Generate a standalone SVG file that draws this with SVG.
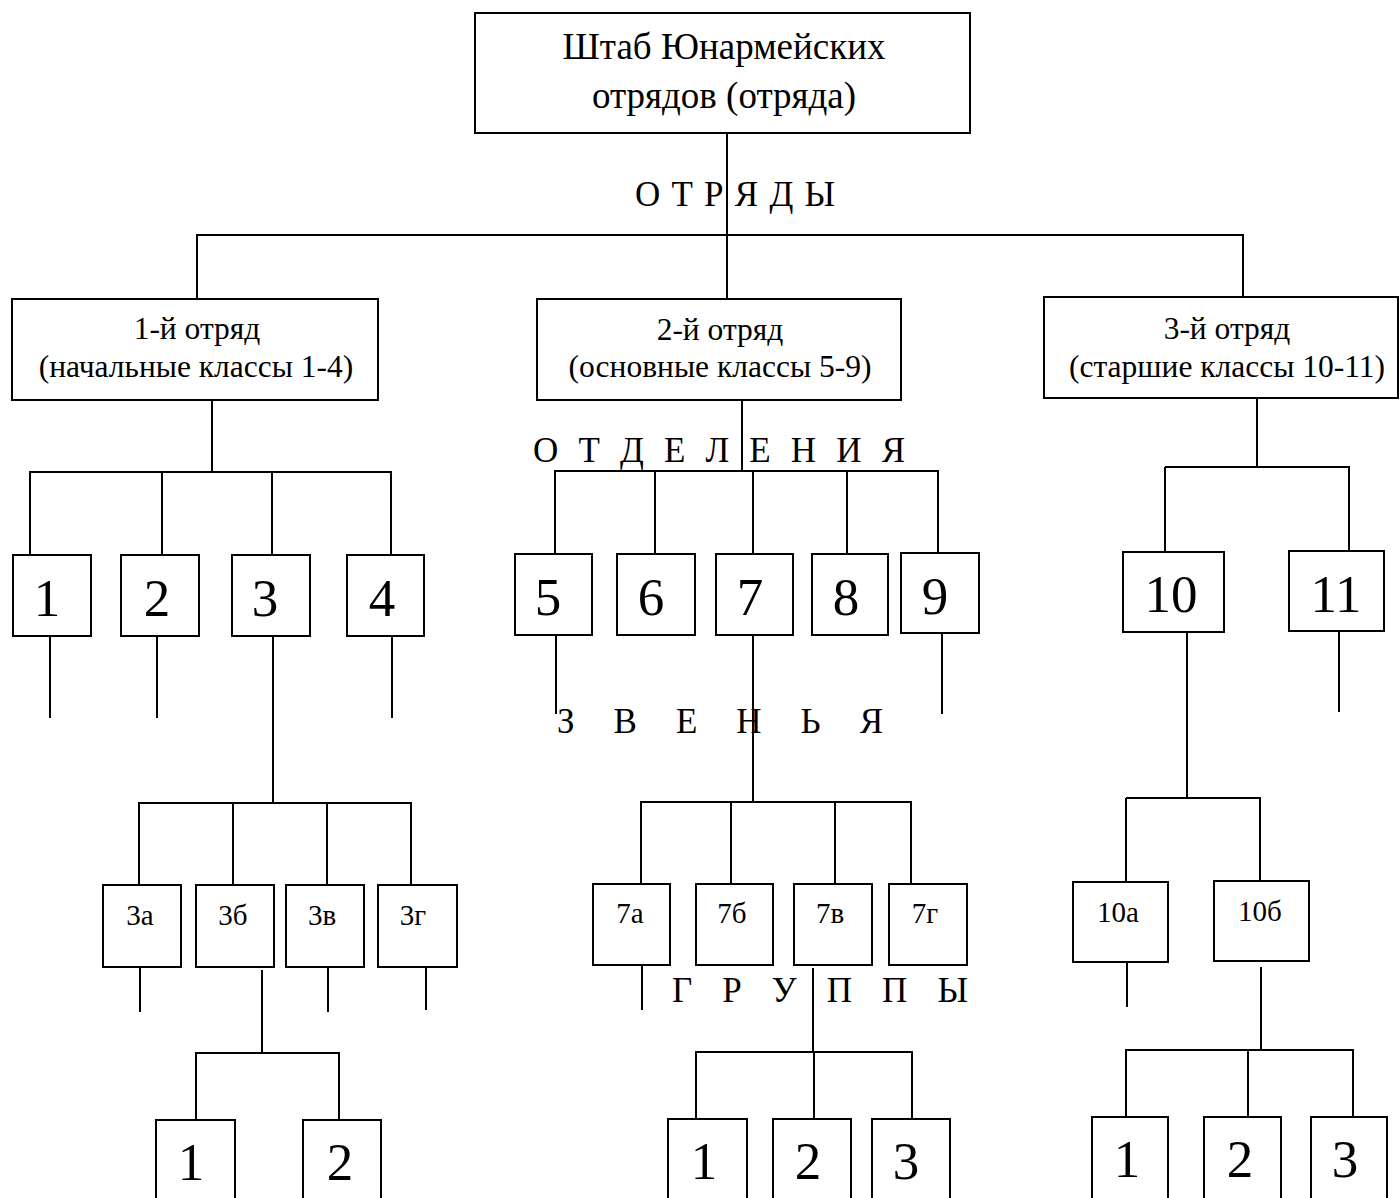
<svg xmlns="http://www.w3.org/2000/svg" width="1400" height="1198" viewBox="0 0 1400 1198">
<style>
.b{fill:#fff;stroke:#000;stroke-width:2}
#connectors line{stroke:#000;stroke-width:2}
text{font-family:"Liberation Serif","DejaVu Serif",serif;fill:#000}
.t{font-size:37px;text-anchor:middle}
.h{font-size:31.5px;text-anchor:middle}
.n{font-size:53px;text-anchor:middle}
.s{font-size:29px;text-anchor:middle}
.lbl{font-size:35px}
</style>
<rect width="1400" height="1198" fill="#fff"/>
<g id="connectors">
<line x1="727" y1="133" x2="727" y2="235"/>
<line x1="196" y1="235" x2="1244" y2="235"/>
<line x1="197" y1="235" x2="197" y2="299"/>
<line x1="727" y1="235" x2="727" y2="299"/>
<line x1="1243" y1="235" x2="1243" y2="298"/>
<line x1="212" y1="400" x2="212" y2="472"/>
<line x1="29" y1="472" x2="392" y2="472"/>
<line x1="30" y1="472" x2="30" y2="555"/>
<line x1="162" y1="472" x2="162" y2="555"/>
<line x1="272" y1="472" x2="272" y2="555"/>
<line x1="391" y1="472" x2="391" y2="555"/>
<line x1="50" y1="636" x2="50" y2="718"/>
<line x1="157" y1="636" x2="157" y2="718"/>
<line x1="273" y1="636" x2="273" y2="803"/>
<line x1="392" y1="636" x2="392" y2="718"/>
<line x1="138" y1="803" x2="412" y2="803"/>
<line x1="139" y1="803" x2="139" y2="885"/>
<line x1="233" y1="803" x2="233" y2="885"/>
<line x1="327" y1="803" x2="327" y2="885"/>
<line x1="411" y1="803" x2="411" y2="885"/>
<line x1="140" y1="967" x2="140" y2="1012"/>
<line x1="262" y1="970" x2="262" y2="1053"/>
<line x1="328" y1="967" x2="328" y2="1012"/>
<line x1="426" y1="963" x2="426" y2="1010"/>
<line x1="195" y1="1053" x2="340" y2="1053"/>
<line x1="196" y1="1053" x2="196" y2="1120"/>
<line x1="339" y1="1053" x2="339" y2="1120"/>
<line x1="742" y1="400" x2="742" y2="471"/>
<line x1="554" y1="471" x2="939" y2="471"/>
<line x1="555" y1="471" x2="555" y2="554"/>
<line x1="655" y1="471" x2="655" y2="554"/>
<line x1="753" y1="471" x2="753" y2="554"/>
<line x1="847" y1="471" x2="847" y2="554"/>
<line x1="938" y1="471" x2="938" y2="553"/>
<line x1="556" y1="635" x2="556" y2="714"/>
<line x1="753" y1="635" x2="753" y2="802"/>
<line x1="942" y1="630" x2="942" y2="714"/>
<line x1="640" y1="802" x2="912" y2="802"/>
<line x1="641" y1="802" x2="641" y2="884"/>
<line x1="731" y1="802" x2="731" y2="884"/>
<line x1="835" y1="802" x2="835" y2="884"/>
<line x1="911" y1="802" x2="911" y2="884"/>
<line x1="642" y1="965" x2="642" y2="1010"/>
<line x1="813" y1="968" x2="813" y2="1052"/>
<line x1="695" y1="1052" x2="913" y2="1052"/>
<line x1="696" y1="1052" x2="696" y2="1119"/>
<line x1="814" y1="1052" x2="814" y2="1119"/>
<line x1="912" y1="1052" x2="912" y2="1119"/>
<line x1="1257" y1="398" x2="1257" y2="467"/>
<line x1="1165" y1="467" x2="1350" y2="467"/>
<line x1="1165" y1="467" x2="1165" y2="552"/>
<line x1="1349" y1="467" x2="1349" y2="551"/>
<line x1="1187" y1="632" x2="1187" y2="798"/>
<line x1="1339" y1="628" x2="1339" y2="712"/>
<line x1="1126" y1="798" x2="1261" y2="798"/>
<line x1="1126" y1="798" x2="1126" y2="882"/>
<line x1="1260" y1="798" x2="1260" y2="881"/>
<line x1="1127" y1="962" x2="1127" y2="1007"/>
<line x1="1261" y1="967" x2="1261" y2="1050"/>
<line x1="1125" y1="1050" x2="1354" y2="1050"/>
<line x1="1126" y1="1050" x2="1126" y2="1117"/>
<line x1="1248" y1="1050" x2="1248" y2="1117"/>
<line x1="1353" y1="1050" x2="1353" y2="1117"/>
</g>
<g id="labels">
<text class="lbl" x="635" y="206" textLength="200" lengthAdjust="spacing">О Т Р Я Д Ы</text>
<text class="lbl" x="533" y="462" textLength="372" lengthAdjust="spacing">О Т Д Е Л Е Н И Я</text>
<text class="lbl" x="557" y="733" textLength="326" lengthAdjust="spacing">З В Е Н Ь Я</text>
<text class="lbl" x="672" y="1002" textLength="296" lengthAdjust="spacing">Г Р У П П Ы</text>
</g>
<g id="hq"><rect class="b" x="475" y="13" width="495" height="120"/><text class="t" x="724" y="59">Штаб Юнармейских</text><text class="t" x="724" y="108">отрядов (отряда)</text></g>
<g id="otr1"><rect class="b" x="12" y="299" width="366" height="101"/><text class="h" x="197" y="339">1-й отряд</text><text class="h" x="196" y="377">(начальные классы 1-4)</text></g>
<g id="otr2"><rect class="b" x="537" y="299" width="364" height="101"/><text class="h" x="720" y="340">2-й отряд</text><text class="h" x="720" y="377">(основные классы 5-9)</text></g>
<g id="otr3"><rect class="b" x="1044" y="297" width="354" height="101"/><text class="h" x="1227" y="339">3-й отряд</text><text class="h" x="1227" y="377">(старшие классы 10-11)</text></g>
<g id="c1"><rect class="b" x="13" y="555" width="78" height="81"/><text class="n" x="47" y="616">1</text></g>
<g id="c2"><rect class="b" x="121" y="555" width="78" height="81"/><text class="n" x="157" y="616">2</text></g>
<g id="c3"><rect class="b" x="232" y="555" width="78" height="81"/><text class="n" x="265" y="616">3</text></g>
<g id="c4"><rect class="b" x="347" y="555" width="77" height="81"/><text class="n" x="382" y="616">4</text></g>
<g id="c5"><rect class="b" x="515" y="554" width="77" height="81"/><text class="n" x="548" y="615">5</text></g>
<g id="c6"><rect class="b" x="617" y="554" width="78" height="81"/><text class="n" x="651" y="615">6</text></g>
<g id="c7"><rect class="b" x="716" y="554" width="77" height="81"/><text class="n" x="750" y="615">7</text></g>
<g id="c8"><rect class="b" x="812" y="554" width="76" height="81"/><text class="n" x="846" y="615">8</text></g>
<g id="c9"><rect class="b" x="901" y="553" width="78" height="80"/><text class="n" x="935" y="614">9</text></g>
<g id="c10"><rect class="b" x="1123" y="552" width="101" height="80"/><text class="n" x="1171" y="612">10</text></g>
<g id="c11"><rect class="b" x="1289" y="551" width="95" height="80"/><text class="n" x="1336" y="612">11</text></g>
<g id="c3a"><rect class="b" x="103" y="885" width="78" height="82"/><text class="s" x="140" y="925">3а</text></g>
<g id="c3b"><rect class="b" x="196" y="885" width="78" height="82"/><text class="s" x="233" y="925">3б</text></g>
<g id="c3v"><rect class="b" x="286" y="885" width="78" height="82"/><text class="s" x="322" y="925">3в</text></g>
<g id="c3g"><rect class="b" x="378" y="885" width="79" height="82"/><text class="s" x="413" y="925">3г</text></g>
<g id="c7a"><rect class="b" x="593" y="884" width="77" height="81"/><text class="s" x="630" y="923">7а</text></g>
<g id="c7b"><rect class="b" x="696" y="884" width="77" height="81"/><text class="s" x="732" y="923">7б</text></g>
<g id="c7v"><rect class="b" x="794" y="884" width="78" height="81"/><text class="s" x="830" y="923">7в</text></g>
<g id="c7g"><rect class="b" x="889" y="884" width="78" height="81"/><text class="s" x="925" y="923">7г</text></g>
<g id="c10a"><rect class="b" x="1073" y="882" width="95" height="80"/><text class="s" x="1118" y="922">10а</text></g>
<g id="c10b"><rect class="b" x="1214" y="881" width="95" height="80"/><text class="s" x="1260" y="921">10б</text></g>
<g id="g3b1"><rect class="b" x="156" y="1120" width="79" height="90"/><text class="n" x="191" y="1180">1</text></g>
<g id="g3b2"><rect class="b" x="303" y="1120" width="78" height="90"/><text class="n" x="340" y="1180">2</text></g>
<g id="g7v1"><rect class="b" x="668" y="1119" width="79" height="90"/><text class="n" x="704" y="1179">1</text></g>
<g id="g7v2"><rect class="b" x="773" y="1119" width="78" height="90"/><text class="n" x="808" y="1179">2</text></g>
<g id="g7v3"><rect class="b" x="872" y="1119" width="78" height="90"/><text class="n" x="906" y="1179">3</text></g>
<g id="g10b1"><rect class="b" x="1092" y="1117" width="76" height="90"/><text class="n" x="1127" y="1177">1</text></g>
<g id="g10b2"><rect class="b" x="1204" y="1117" width="77" height="90"/><text class="n" x="1240" y="1177">2</text></g>
<g id="g10b3"><rect class="b" x="1311" y="1117" width="76" height="90"/><text class="n" x="1345" y="1177">3</text></g>
</svg>
